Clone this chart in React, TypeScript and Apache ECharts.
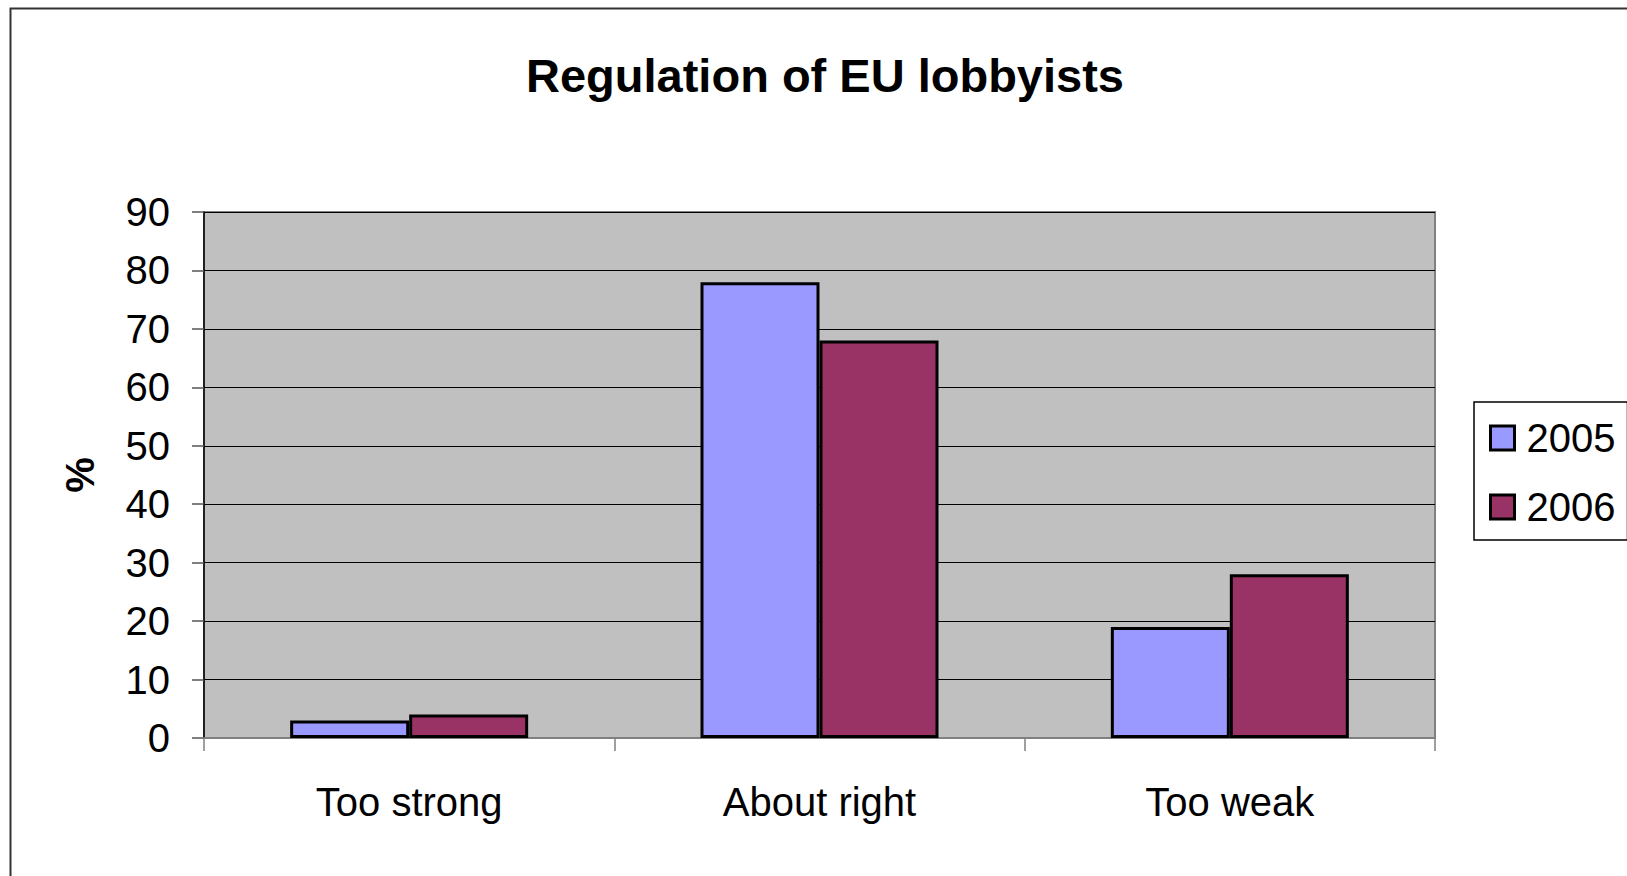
import React, { useEffect, useRef } from "react";
import * as echarts from "echarts";

const categories = ["Too strong", "About right", "Too weak"];
const series2005 = [3, 78, 19];
const series2006 = [4, 68, 28];
const seriesNames = ["2005", "2006"];
const yTicks = [0, 10, 20, 30, 40, 50, 60, 70, 80, 90];

const FONT = "'Liberation Sans', Arial, Helvetica, sans-serif";

export default function App() {
  const ref = useRef<HTMLDivElement>(null);

  useEffect(() => {
    if (!ref.current) return;
    const chart = echarts.init(ref.current, undefined, { renderer: "svg" });
    const option: any = {
      animation: false,
      backgroundColor: "#ffffff",
      textStyle: { fontFamily: FONT },
      title: {
        text: "Regulation of EU lobbyists",
        left: 825,
        top: 52,
        textAlign: "center",
        padding: 0,
        textStyle: {
          fontFamily: FONT,
          fontSize: 47,
          fontWeight: "bold",
          color: "#000",
        },
      },
      graphic: [
        {
          type: "rect",
          shape: { x: 10.5, y: 8.5, width: 1700, height: 1000 },
          style: { fill: "none", stroke: "#333", lineWidth: 2 },
          silent: true,
          z: 0,
        },
      ],
      legend: {
        orient: "vertical",
        left: 1474,
        top: 402,
        padding: [14, 12, 11, 15],
        itemWidth: 24,
        itemHeight: 24,
        itemGap: 25,
        borderColor: "#000",
        borderWidth: 1.5,
        backgroundColor: "#fff",
        icon: "rect",
        itemStyle: { borderColor: "#000", borderWidth: 3 },
        textStyle: {
          fontFamily: FONT,
          fontSize: 40,
          lineHeight: 44,
          color: "#000",
          padding: [0, 0, 0, 7],
        },
        data: seriesNames,
      },
      grid: {
        left: 204,
        top: 212,
        width: 1231,
        height: 526,
        show: true,
        backgroundColor: "#C0C0C0",
        borderColor: "#808080",
        borderWidth: 2,
        containLabel: false,
      },
      xAxis: {
        type: "category",
        data: categories,
        axisLine: { show: true, lineStyle: { color: "#808080", width: 2 } },
        axisTick: {
          show: true,
          length: 13,
          inside: false,
          lineStyle: { color: "#808080", width: 1.5 },
        },
        axisLabel: {
          margin: 44,
          fontFamily: FONT,
          fontSize: 40,
          color: "#000",
        },
        splitLine: { show: false },
      },
      yAxis: {
        type: "value",
        min: yTicks[0],
        max: yTicks[yTicks.length - 1],
        interval: 10,
        name: "%",
        nameLocation: "middle",
        nameRotate: 90,
        nameGap: 104,
        nameTextStyle: {
          fontFamily: FONT,
          fontSize: 40,
          fontWeight: "bold",
          color: "#000",
        },
        axisLine: { show: true, lineStyle: { color: "#000", width: 1.5 } },
        axisTick: {
          show: true,
          length: 12,
          inside: false,
          lineStyle: { color: "#555", width: 1.5 },
        },
        axisLabel: {
          margin: 34,
          fontFamily: FONT,
          fontSize: 40,
          color: "#000",
        },
        splitLine: { show: true, lineStyle: { color: "#000", width: 1 } },
      },
      series: [
        {
          name: seriesNames[0],
          type: "bar",
          data: series2005,
          barWidth: 119,
          barGap: "0%",
          itemStyle: { color: "#9999FF", borderColor: "#000", borderWidth: 3 },
        },
        {
          name: seriesNames[1],
          type: "bar",
          data: series2006,
          barWidth: 119,
          barGap: "0%",
          itemStyle: { color: "#993366", borderColor: "#000", borderWidth: 3 },
        },
      ],
    };
    chart.setOption(option);
    return () => chart.dispose();
  }, []);

  return (
    <div
      ref={ref}
      style={{ position: "absolute", left: 0, top: 0, width: 1627, height: 876 }}
    />
  );
}
